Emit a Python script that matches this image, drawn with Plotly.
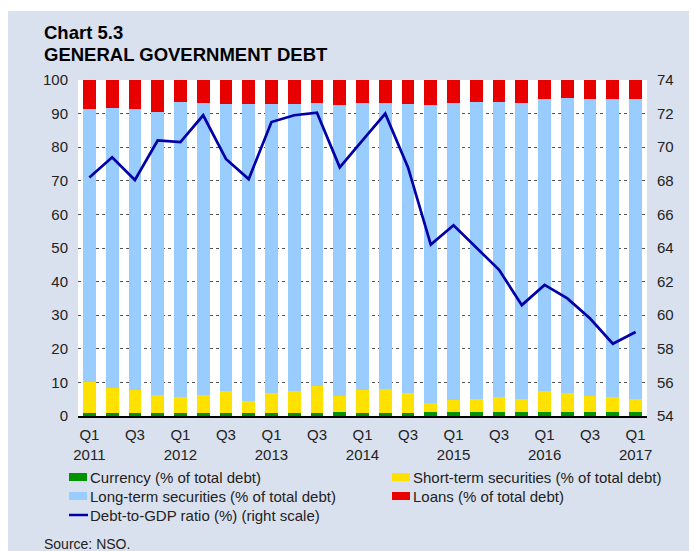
import plotly.graph_objects as go

quarters = ["Q1 2011", "Q2 2011", "Q3 2011", "Q4 2011",
            "Q1 2012", "Q2 2012", "Q3 2012", "Q4 2012",
            "Q1 2013", "Q2 2013", "Q3 2013", "Q4 2013",
            "Q1 2014", "Q2 2014", "Q3 2014", "Q4 2014",
            "Q1 2015", "Q2 2015", "Q3 2015", "Q4 2015",
            "Q1 2016", "Q2 2016", "Q3 2016", "Q4 2016",
            "Q1 2017"]

currency = [0.9, 0.9, 0.9, 0.9, 0.9, 0.9, 1.0, 1.0, 1.0, 1.0, 1.0, 1.1, 1.0,
            1.0, 1.0, 1.3, 1.2, 1.3, 1.3, 1.3, 1.3, 1.3, 1.3, 1.3, 1.3]
short_term = [9.1, 7.3, 6.7, 5.5, 4.7, 5.4, 6.5, 3.4, 5.7, 6.4, 7.9, 4.8, 6.8,
              7.0, 5.7, 2.5, 3.7, 3.9, 4.4, 3.9, 6.1, 5.4, 4.7, 4.5, 3.9]
long_term = [81.4, 83.6, 83.8, 84.0, 88.0, 86.8, 85.3, 88.4, 86.3, 85.5, 84.2, 86.8, 85.3,
             85.2, 86.3, 88.9, 88.3, 88.2, 87.7, 88.0, 86.9, 87.8, 88.3, 88.5, 89.2]
loans = [8.6, 8.2, 8.6, 9.6, 6.4, 6.9, 7.2, 7.2, 7.0, 7.1, 6.9, 7.3, 6.9,
         6.8, 7.0, 7.3, 6.8, 6.6, 6.6, 6.8, 5.7, 5.5, 5.7, 5.7, 5.6]
debt_to_gdp = [68.2, 69.4, 68.05, 70.4, 70.3, 71.9, 69.3, 68.1, 71.5, 71.9, 72.05, 68.8, 70.4,
               72.0, 68.8, 64.2, 65.35, 64.0, 62.7, 60.6, 61.8, 61.0, 59.8, 58.3, 59.0]

tick_vals = ["Q1 2011", "Q3 2011", "Q1 2012", "Q3 2012", "Q1 2013", "Q3 2013", "Q1 2014",
             "Q3 2014", "Q1 2015", "Q3 2015", "Q1 2016", "Q3 2016", "Q1 2017"]
tick_text = ["Q1<br>2011", "Q3", "Q1<br>2012", "Q3", "Q1<br>2013", "Q3", "Q1<br>2014",
             "Q3", "Q1<br>2015", "Q3", "Q1<br>2016", "Q3", "Q1<br>2017"]
left_ticks = [0, 10, 20, 30, 40, 50, 60, 70, 80, 90, 100]
right_ticks = [54, 56, 58, 60, 62, 64, 66, 68, 70, 72, 74]

series_names = ["Currency (% of total debt)", "Short-term securities (% of total debt)",
                "Long-term securities (% of total debt)", "Loans (% of total debt)"]
line_name = "Debt-to-GDP ratio (%) (right scale)"

GREEN = "#009300"
YELLOW = "#ffe100"
BLUE = "#99ccff"
RED = "#e80000"
NAVY = "#0000a8"
PANEL = "#dae1ee"
FONT = "Liberation Sans, Arial, sans-serif"

# page has an 8px body margin: figure is placed at (8, 8) in the window
OFF = 8
W, H = 697 - OFF, 551 - OFF
L, R, T, B = 78 - OFF, 50, 80 - OFF, 135
PW, PH = W - L - R, H - T - B


def xp(px):
    # px given in window pixels
    return (px - OFF - L) / PW


def yp(py):
    return (H - B - (py - OFF)) / PH


fig = go.Figure()
for vals, name, col in zip([currency, short_term, long_term, loans], series_names,
                           [GREEN, YELLOW, BLUE, RED]):
    fig.add_trace(go.Bar(x=quarters, y=vals, name=name, marker_color=col,
                         marker_line_width=0, showlegend=False))
fig.add_trace(go.Scatter(x=quarters, y=debt_to_gdp, name=line_name, mode="lines",
                         line=dict(color=NAVY, width=2.7), yaxis="y2", showlegend=False))

shapes = [
    dict(type="rect", xref="paper", yref="paper", x0=xp(0), x1=xp(710), y0=yp(0), y1=yp(11),
         fillcolor="white", line_width=0, layer="below"),
]
annotations = [
    dict(text="<b>Chart 5.3</b>", x=xp(42), y=yp(32), xref="paper", yref="paper",
         xanchor="left", yanchor="middle", showarrow=False,
         font=dict(family=FONT, size=18.5, color="#000")),
    dict(text="<b>GENERAL GOVERNMENT DEBT</b>", x=xp(42), y=yp(54), xref="paper", yref="paper",
         xanchor="left", yanchor="middle", showarrow=False,
         font=dict(family=FONT, size=18.5, color="#000")),
    dict(text="Source: NSO.", x=xp(42), y=yp(544), xref="paper", yref="paper",
         xanchor="left", yanchor="middle", showarrow=False,
         font=dict(family=FONT, size=14, color="#222")),
]

legend_items = [
    (series_names[0], GREEN, 69, 477, "box"),
    (series_names[1], YELLOW, 392, 477, "box"),
    (series_names[2], BLUE, 69, 496, "box"),
    (series_names[3], RED, 392, 496, "box"),
    (line_name, NAVY, 69, 515, "line"),
]
for name, col, lx, ly, kind in legend_items:
    if kind == "box":
        shapes.append(dict(type="rect", xref="paper", yref="paper", x0=xp(lx), x1=xp(lx + 18),
                           y0=yp(ly - 4), y1=yp(ly + 4), fillcolor=col, line_width=0))
    else:
        shapes.append(dict(type="line", xref="paper", yref="paper", x0=xp(lx), x1=xp(lx + 19),
                           y0=yp(ly), y1=yp(ly), line=dict(color=col, width=2.5)))
    annotations.append(dict(text=name, x=xp(lx + 19), y=yp(ly), xref="paper", yref="paper",
                            xanchor="left", yanchor="middle", showarrow=False,
                            font=dict(family=FONT, size=15, color="#222")))

fig.update_layout(
    width=W, height=H,
    margin=dict(l=L, r=R, t=T, b=B),
    paper_bgcolor=PANEL, plot_bgcolor="white",
    barmode="stack", bargap=0.44,
    font=dict(family=FONT, size=15, color="#222"),
    showlegend=False,
    shapes=shapes, annotations=annotations,
    xaxis=dict(type="category", categoryorder="array", categoryarray=quarters,
               tickvals=tick_vals, ticktext=tick_text, ticks="", showgrid=False,
               showline=True, linecolor="#000", linewidth=2.2, zeroline=False,
               ticklabelstandoff=4, tickfont=dict(size=15, color="#222")),
    yaxis=dict(range=[0, 100], tickvals=left_ticks, showgrid=True, gridcolor="#555",
               griddash="3px,3px", gridwidth=1, zeroline=False, ticks="",
               ticklabelstandoff=9, tickfont=dict(size=15, color="#222")),
    yaxis2=dict(range=[54, 74], tickvals=right_ticks, overlaying="y", side="right",
                showgrid=False, zeroline=False, ticks="", ticklabelstandoff=9,
                tickfont=dict(size=15, color="#222")),
)

fig.write_html("out.html")
